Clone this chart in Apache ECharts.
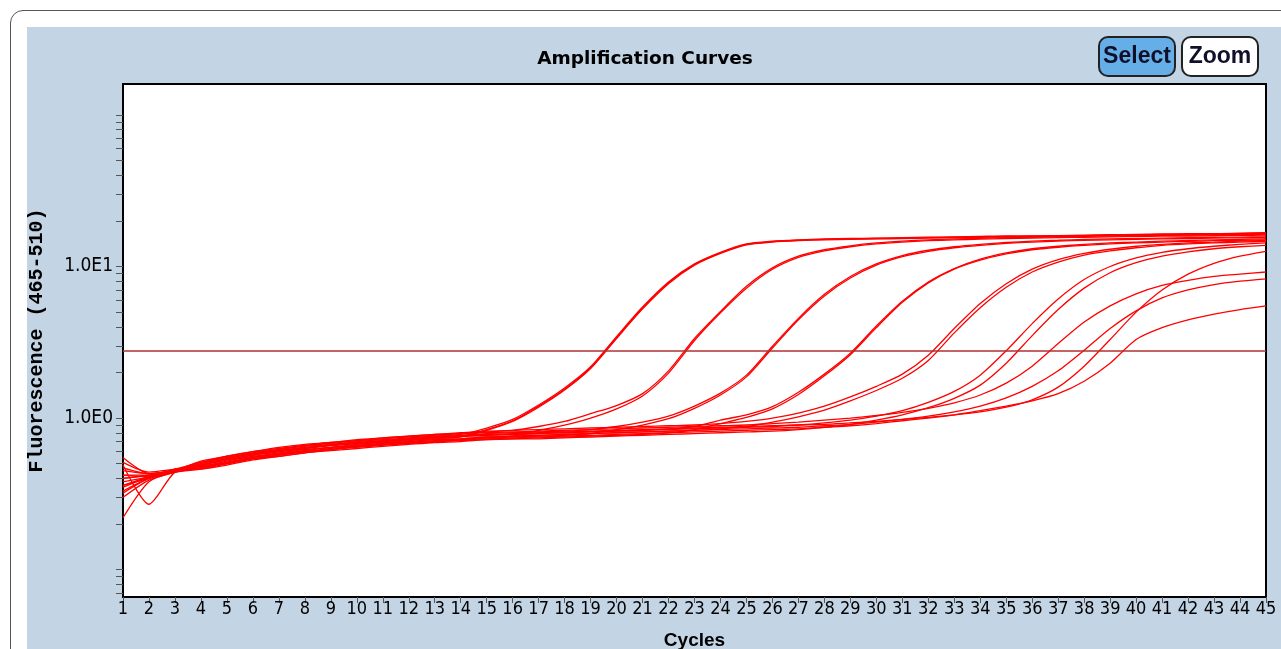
<!DOCTYPE html>
<html><head><meta charset="utf-8">
<script src="https://cdn.jsdelivr.net/npm/echarts@6/dist/echarts.min.js"></script>
<style>
html,body{margin:0;padding:0;background:#fff;}
#wrap{position:relative;width:1281px;height:649px;overflow:hidden;}
#frame{position:absolute;left:10px;top:10px;width:1300px;height:700px;border:1.5px solid #555;border-radius:13px;background:#fff;}
#panel{position:absolute;left:27px;top:27px;right:0;bottom:0;background:#c3d4e4;}
#chart{position:absolute;left:0;top:0;width:1281px;height:649px;}
</style></head>
<body><div id="wrap"><div id="frame"></div><div id="panel"></div><div id="chart"></div></div>
<script>
const cycles = [1,2,3,4,5,6,7,8,9,10,11,12,13,14,15,16,17,18,19,20,21,22,23,24,25,26,27,28,29,30,31,32,33,34,35,36,37,38,39,40,41,42,43,44,45];
const yTickValues = [0.07,0.08,0.09,0.1,0.2,0.3,0.4,0.5,0.6,0.7,0.8,0.9,1,2,3,4,5,6,7,8,9,10,20,30,40,50,60,70,80,90,100];
const yLabelValues = [1, 10];
const yLabelText = {1: '1.0E0', 10: '1.0E1'};
const threshold = 2.78;

const A1 = [0.55,0.43,0.45,0.50,0.55,0.59,0.62,0.65,0.67,0.70,0.72,0.74,0.76,0.78,0.86,0.98,1.22,1.58,2.18,3.45,5.4,7.9,10.4,12.4,14.1,14.7,15.0,15.2,15.3,15.4,15.5,15.6,15.7,15.8,15.9,15.9,16.0,16.1,16.2,16.3,16.4,16.5,16.5,16.6,16.7];
const A2 = [0.42,0.41,0.46,0.48,0.52,0.56,0.59,0.62,0.64,0.67,0.69,0.71,0.73,0.75,0.83,0.95,1.18,1.53,2.12,3.35,5.25,7.7,10.2,12.2,13.9,14.5,14.8,15.0,15.1,15.2,15.3,15.4,15.5,15.6,15.7,15.8,15.9,15.9,16.0,16.1,16.2,16.2,16.3,16.4,16.5];
const A3 = [0.36,0.40,0.45,0.49,0.53,0.57,0.60,0.63,0.66,0.68,0.70,0.72,0.74,0.76,0.84,0.96,1.20,1.55,2.15,3.40,5.3,7.8,10.3,12.3,14.0,14.6,14.9,15.1,15.2,15.3,15.4,15.5,15.6,15.7,15.8,15.85,15.9,16.0,16.1,16.2,16.3,16.35,16.4,16.5,16.6];
const B1 = [0.49,0.27,0.44,0.47,0.50,0.54,0.57,0.60,0.62,0.65,0.67,0.68,0.70,0.72,0.74,0.76,0.83,0.90,1.00,1.15,1.40,1.98,3.25,4.95,7.2,9.6,11.5,12.7,13.5,14.1,14.5,14.8,15.0,15.15,15.3,15.4,15.5,15.6,15.7,15.8,15.85,15.9,16.0,16.05,16.1];
const B2 = [0.40,0.42,0.46,0.51,0.56,0.60,0.63,0.66,0.69,0.71,0.74,0.76,0.78,0.79,0.81,0.83,0.88,0.95,1.07,1.21,1.45,2.05,3.35,5.05,7.4,9.8,11.7,12.9,13.7,14.3,14.7,15.0,15.2,15.35,15.5,15.6,15.7,15.8,15.9,16.0,16.05,16.1,16.2,16.25,16.3];
const C1 = [0.45,0.43,0.45,0.50,0.54,0.58,0.61,0.64,0.67,0.69,0.71,0.73,0.75,0.77,0.79,0.80,0.81,0.82,0.84,0.88,0.94,1.03,1.20,1.46,1.92,2.98,4.55,6.55,8.6,10.4,11.8,12.8,13.5,14.0,14.4,14.7,14.9,15.1,15.2,15.3,15.4,15.5,15.6,15.65,15.7];
const C2 = [0.33,0.40,0.44,0.47,0.51,0.55,0.58,0.60,0.63,0.65,0.67,0.69,0.71,0.72,0.74,0.75,0.76,0.77,0.79,0.84,0.90,0.99,1.16,1.42,1.87,2.90,4.45,6.4,8.4,10.2,11.6,12.6,13.3,13.8,14.2,14.5,14.7,14.9,15.0,15.1,15.2,15.3,15.4,15.45,15.5];
const D1 = [0.38,0.41,0.45,0.49,0.53,0.57,0.60,0.63,0.66,0.68,0.70,0.72,0.74,0.76,0.77,0.78,0.79,0.80,0.81,0.82,0.83,0.85,0.88,0.97,1.05,1.19,1.48,1.95,2.68,4.05,5.9,7.9,9.7,11.2,12.3,13.1,13.6,14.0,14.3,14.5,14.7,14.85,15.0,15.1,15.2];
const D2 = [0.22,0.38,0.44,0.46,0.50,0.54,0.56,0.59,0.62,0.64,0.66,0.68,0.70,0.71,0.72,0.73,0.74,0.75,0.76,0.77,0.78,0.80,0.84,0.92,1.01,1.15,1.43,1.90,2.62,3.95,5.8,7.8,9.6,11.0,12.1,12.9,13.4,13.8,14.1,14.3,14.5,14.65,14.8,14.9,15.0];
const E1 = [0.35,0.41,0.45,0.52,0.56,0.60,0.64,0.67,0.69,0.72,0.74,0.76,0.78,0.80,0.82,0.83,0.84,0.85,0.86,0.87,0.88,0.89,0.90,0.92,0.95,1.00,1.08,1.20,1.38,1.62,1.95,2.60,3.90,5.7,7.7,9.6,11.1,12.2,13.0,13.6,14.0,14.3,14.5,14.7,14.85];
const E2 = [0.51,0.44,0.46,0.48,0.51,0.55,0.58,0.61,0.64,0.66,0.68,0.70,0.72,0.73,0.75,0.76,0.77,0.78,0.79,0.80,0.81,0.82,0.83,0.85,0.88,0.94,1.02,1.13,1.30,1.52,1.83,2.40,3.65,5.35,7.3,9.2,10.7,11.9,12.7,13.3,13.8,14.1,14.3,14.5,14.65];
const F1 = [0.30,0.39,0.44,0.49,0.53,0.57,0.60,0.63,0.66,0.68,0.70,0.72,0.74,0.76,0.77,0.78,0.79,0.80,0.81,0.82,0.83,0.84,0.85,0.86,0.87,0.88,0.90,0.93,0.97,1.03,1.12,1.27,1.50,1.92,2.78,4.2,6.1,8.2,10.0,11.4,12.4,13.1,13.6,14.0,14.3];
const G1 = [0.42,0.42,0.45,0.46,0.49,0.53,0.56,0.59,0.61,0.63,0.65,0.67,0.69,0.70,0.72,0.73,0.73,0.74,0.75,0.76,0.77,0.78,0.79,0.80,0.81,0.82,0.84,0.87,0.91,0.97,1.05,1.17,1.35,1.65,2.30,3.5,5.2,7.2,9.1,10.6,11.7,12.5,13.1,13.5,13.8];
const H1 = [0.36,0.41,0.45,0.51,0.55,0.59,0.62,0.66,0.68,0.71,0.73,0.75,0.77,0.79,0.80,0.81,0.82,0.83,0.84,0.85,0.86,0.87,0.88,0.89,0.90,0.92,0.94,0.97,1.00,1.04,1.09,1.16,1.26,1.42,1.70,2.20,3.10,4.3,5.5,6.6,7.5,8.1,8.6,8.9,9.2];
const I1 = [0.47,0.43,0.45,0.48,0.51,0.55,0.58,0.61,0.64,0.66,0.68,0.70,0.72,0.73,0.75,0.76,0.77,0.78,0.79,0.80,0.81,0.82,0.83,0.84,0.85,0.86,0.87,0.89,0.91,0.94,0.98,1.03,1.10,1.20,1.36,1.62,2.05,2.80,3.9,5.1,6.2,7.0,7.6,8.0,8.3];
const J1 = [0.32,0.40,0.44,0.49,0.54,0.58,0.61,0.64,0.66,0.69,0.71,0.73,0.75,0.76,0.78,0.79,0.80,0.81,0.82,0.83,0.84,0.85,0.86,0.87,0.88,0.89,0.90,0.91,0.93,0.95,0.98,1.01,1.05,1.10,1.18,1.32,1.60,2.20,3.30,5.0,7.0,8.9,10.5,11.7,12.6];
const K1 = [0.40,0.42,0.45,0.47,0.50,0.54,0.57,0.60,0.62,0.65,0.67,0.68,0.70,0.72,0.73,0.74,0.75,0.76,0.77,0.78,0.79,0.80,0.81,0.82,0.83,0.84,0.85,0.87,0.89,0.92,0.96,1.00,1.05,1.12,1.20,1.30,1.45,1.75,2.30,3.30,3.95,4.45,4.85,5.2,5.5];

const curves = {A1, A2, A3, B1, B2, C1, C2, D1, D2, E1, E2, F1, G1, H1, I1, J1, K1};

const chart = echarts.init(document.getElementById('chart'), null, {renderer: 'canvas'});
const narrow = '"DejaVu Sans Condensed", "Liberation Sans Narrow", "Liberation Sans", sans-serif';
const names = Object.keys(curves);
const series = names.map((n, i) => ({
  name: n, type: 'line', data: curves[n], symbol: 'none',
  smooth: 0.25,
  lineStyle: {color: '#ff0000', width: 1.3}, itemStyle: {color: '#ff0000'},
  animation: false, z: 2,
  markLine: i === 0 ? {
    silent: true, symbol: ['none', 'none'], label: {show: false}, animation: false,
    lineStyle: {color: '#b03030', width: 1.5, type: 'solid'},
    data: [{yAxis: threshold}], z: 5
  } : undefined
}));

chart.setOption({
  animation: false,
  backgroundColor: 'transparent',
  grid: {left: 123, top: 84, right: 15, bottom: 52, show: true, backgroundColor: '#ffffff',
         borderColor: '#000', borderWidth: 2, containLabel: false, outerBoundsMode: 'none'},
  xAxis: {
    type: 'category', data: cycles, boundaryGap: false,
    name: 'Cycles', nameLocation: 'middle', nameGap: 34,
    nameTextStyle: {fontFamily: 'Liberation Sans, Arial, sans-serif', fontWeight: 'bold', fontSize: 19, color: '#000'},
    axisLine: {show: true, lineStyle: {color: '#000', width: 2}},
    axisTick: {show: true, alignWithLabel: true, interval: 0, length: 6, lineStyle: {color: '#555'}},
    axisLabel: {show: true, interval: 0, margin: 3, fontFamily: narrow, fontSize: 18, color: '#000'},
    splitLine: {show: false}
  },
  yAxis: {
    type: 'log', logBase: 10, min: 0.066, max: 160,
    name: 'Fluorescence (465-510)', nameLocation: 'middle', nameGap: 76, nameRotate: 90,
    nameTextStyle: {fontFamily: '"Liberation Mono", "DejaVu Sans Mono", monospace', fontWeight: 'bold', fontSize: 20, color: '#000'},
    axisLine: {show: true, lineStyle: {color: '#000', width: 2}},
    axisTick: {show: true, length: 7, customValues: yTickValues, lineStyle: {color: '#555'}},
    axisLabel: {show: true, margin: 10, customValues: yLabelValues, fontFamily: narrow, fontSize: 19, color: '#000',
      formatter: v => yLabelText[Math.round(v)] || ''},
    splitLine: {show: false}, minorTick: {show: false}, minorSplitLine: {show: false}
  },
  graphic: [
    {type: 'text', x: 645, y: 59, style: {text: 'Amplification Curves', align: 'center', verticalAlign: 'middle',
      font: 'bold 18.5px "DejaVu Sans", Verdana, sans-serif', fill: '#000'}},
    {type: 'rect', shape: {x: 1099, y: 37, width: 76, height: 39, r: 9},
      style: {fill: '#66aee8', stroke: '#222', lineWidth: 2}},
    {type: 'text', x: 1137, y: 57, style: {text: 'Select', align: 'center', verticalAlign: 'middle',
      font: 'bold 23px "Liberation Sans", Arial, sans-serif', fill: '#10102a'}},
    {type: 'rect', shape: {x: 1182, y: 37, width: 76, height: 39, r: 9},
      style: {fill: '#ffffff', stroke: '#222', lineWidth: 2}},
    {type: 'text', x: 1220, y: 57, style: {text: 'Zoom', align: 'center', verticalAlign: 'middle',
      font: 'bold 23px "Liberation Sans", Arial, sans-serif', fill: '#10102a'}}
  ],
  series: series
});
</script></body></html>
